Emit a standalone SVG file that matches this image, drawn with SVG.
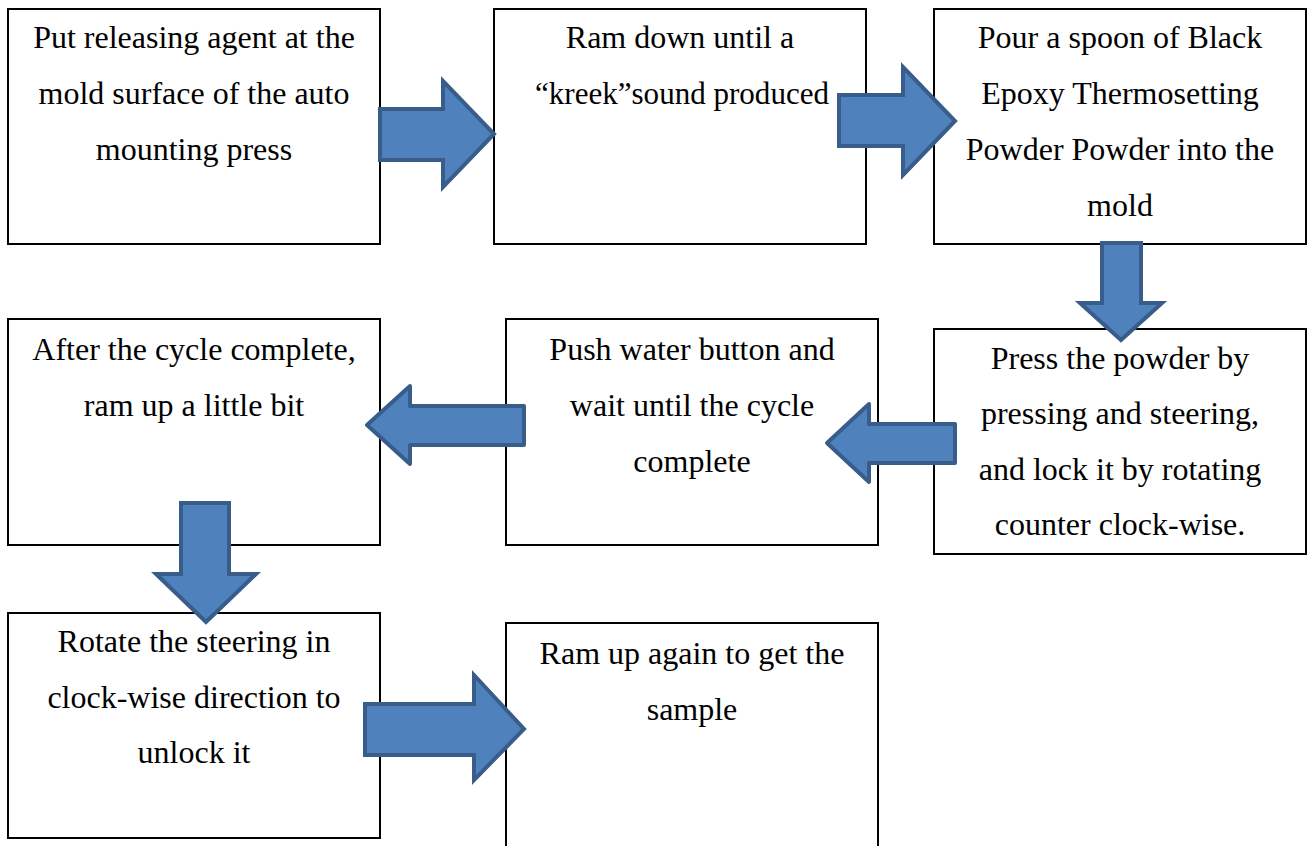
<svg xmlns="http://www.w3.org/2000/svg" width="1316" height="846" viewBox="0 0 1316 846">
<style>
.box{fill:#fff;stroke:#000;stroke-width:2}
.t{font-family:"Liberation Serif","Times New Roman",serif;font-size:32px;fill:#000;text-anchor:middle}
.arr{fill:#4F81BD;stroke:#385D8A;stroke-width:4;stroke-linejoin:miter}
.arr.r{stroke-linejoin:round}
</style>
<rect width="1316" height="846" fill="#fff"/>
<g id="node1"><rect class="box" x="8" y="9" width="372" height="235"/>
<text class="t" x="194"><tspan x="194" y="48">Put releasing agent at the</tspan><tspan x="194" y="104">mold surface of the auto</tspan><tspan x="194" y="160">mounting press</tspan></text></g>
<g id="node2"><rect class="box" x="494" y="9" width="372" height="235"/>
<text class="t" x="680" y="48">Ram down until a</text>
<text class="t" x="682" y="104" textLength="294" lengthAdjust="spacingAndGlyphs">“kreek”sound produced</text></g>
<g id="node3"><rect class="box" x="934" y="9" width="372" height="235"/>
<text class="t"><tspan x="1120" y="48">Pour a spoon of Black</tspan><tspan x="1120" y="104">Epoxy Thermosetting</tspan><tspan x="1120" y="160">Powder Powder into the</tspan><tspan x="1120" y="216">mold</tspan></text></g>
<g id="node4"><rect class="box" x="934" y="329" width="372" height="225"/>
<text class="t"><tspan x="1120" y="369">Press the powder by</tspan><tspan x="1120" y="424">pressing and steering,</tspan><tspan x="1120" y="480">and lock it by rotating</tspan><tspan x="1120" y="535">counter clock-wise.</tspan></text></g>
<g id="node5"><rect class="box" x="506" y="319" width="372" height="226"/>
<text class="t"><tspan x="692" y="360">Push water button and</tspan><tspan x="692" y="416">wait until the cycle</tspan><tspan x="692" y="472">complete</tspan></text></g>
<g id="node6"><rect class="box" x="8" y="319" width="372" height="226"/>
<text class="t"><tspan x="194" y="360">After the cycle complete,</tspan><tspan x="194" y="416">ram up a little bit</tspan></text></g>
<g id="node7"><rect class="box" x="8" y="613" width="372" height="225"/>
<text class="t"><tspan x="194" y="652">Rotate the steering in</tspan><tspan x="194" y="708">clock-wise direction to</tspan><tspan x="194" y="763">unlock it</tspan></text></g>
<g id="node8"><rect class="box" x="506" y="623" width="372" height="240"/>
<text class="t"><tspan x="692" y="664">Ram up again to get the</tspan><tspan x="692" y="720">sample</tspan></text></g>
<g id="connectors">
<polygon class="arr" points="380,109 443,109 443,81 494,134 443,187 443,160 380,160"/>
<polygon class="arr" points="839,95 903,95 903,67 955,121 903,175 903,146 839,146"/>
<polygon class="arr" points="1102,243 1141,243 1141,303 1162,303 1121,340 1080,303 1102,303"/>
<polygon class="arr r" points="955,424 869,424 869,404 827,443 869,482 869,463 955,463"/>
<polygon class="arr r" points="524,406 410,406 410,386 367,425 410,464 410,445 524,445"/>
<polygon class="arr" points="181,503 229,503 229,574 256,574 206,622 156,574 181,574"/>
<polygon class="arr" points="365,704 474,704 474,675 524,729 474,780 474,755 365,755"/>
</g>
</svg>
